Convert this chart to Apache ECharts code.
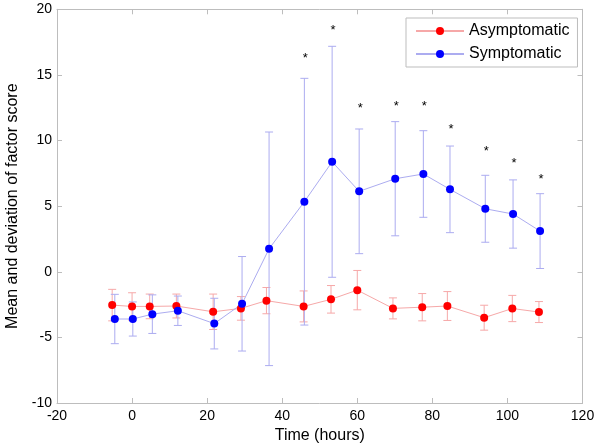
<!DOCTYPE html>
<html><head><meta charset="utf-8">
<script src="https://cdn.jsdelivr.net/npm/echarts@6/dist/echarts.min.js"></script>
<style>html,body{margin:0;padding:0;background:#fff}#c{width:600px;height:445px}</style>
</head><body><div id="c"></div>
<script>
// ---- data ----
const asymX  = [-5.3, 0, 4.7, 11.8, 21.6, 29.0, 35.8, 45.7, 53.0, 60.0, 69.5, 77.3, 84.0, 93.8, 101.3, 108.4];
const asymY  = [-2.54, -2.64, -2.64, -2.61, -3.05, -2.79, -2.2, -2.64, -2.10, -1.40, -2.79, -2.70, -2.61, -3.50, -2.80, -3.07];
const asymSD = [1.2, 1.04, 0.94, 0.91, 1.35, 0.9, 1.0, 1.18, 1.05, 1.5, 0.8, 1.04, 1.1, 0.95, 1.0, 0.8];

const symX  = [-4.6, 0.2, 5.4, 12.2, 21.9, 29.3, 36.5, 45.9, 53.3, 60.5, 70.1, 77.6, 84.7, 94.1, 101.5, 108.7];
const symY  = [-3.6, -3.6, -3.23, -2.97, -3.95, -2.44, 1.75, 5.34, 8.38, 6.13, 7.09, 7.45, 6.28, 4.80, 4.40, 3.10];
const symSD = [1.88, 1.3, 1.47, 1.12, 1.93, 3.6, 8.9, 9.4, 8.8, 4.75, 4.35, 3.3, 3.3, 2.55, 2.6, 2.85];

const starX = [45.9, 53.3, 60.5, 70.1, 77.6, 84.7, 94.1, 101.5, 108.7];
const starY = [16.5, 18.6, 12.7, 12.85, 12.8, 11.1, 9.4, 8.45, 7.3];

const xTicks = {min: -20, max: 120, step: 20};
const yTicks = {min: -10, max: 20, step: 5};
const seriesNames = ['Asymptomatic', 'Symptomatic'];

// ---- styling ----
const FONT = 'Liberation Sans, Arial, sans-serif';
const AXIS = '#bdbdbd';
const RED = '#ff0000', BLUE = '#0000ff';
const RED_L = '#f6a8a8', BLUE_L = '#acacf0';

function errSeries(xs, ys, sds, color) {
  return {
    type: 'custom', silent: true,
    data: xs.map((x, i) => [x, ys[i] - sds[i], ys[i] + sds[i]]),
    encode: {x: 0, y: [1, 2]},
    renderItem(params, api) {
      const x = api.value(0);
      const p1 = api.coord([x, api.value(1)]);
      const p2 = api.coord([x, api.value(2)]);
      const w = 4;
      const style = {stroke: color, lineWidth: 1};
      return {type: 'group', children: [
        {type: 'line', shape: {x1: p1[0], y1: p1[1], x2: p2[0], y2: p2[1]}, style},
        {type: 'line', shape: {x1: p1[0] - w, y1: p1[1], x2: p1[0] + w, y2: p1[1]}, style},
        {type: 'line', shape: {x1: p2[0] - w, y1: p2[1], x2: p2[0] + w, y2: p2[1]}, style}
      ]};
    }
  };
}
function lineSeries(name, xs, ys, color, light) {
  return {
    type: 'line', name, data: xs.map((x, i) => [x, ys[i]]),
    symbol: 'circle', symbolSize: 8, showSymbol: true,
    lineStyle: {color: light, width: 1},
    itemStyle: {color: color},
    emphasis: {disabled: true}
  };
}

const baseX = {type: 'value', min: xTicks.min, max: xTicks.max, interval: xTicks.step,
  splitLine: {show: false},
  axisLine: {show: true, onZero: false, lineStyle: {color: AXIS}},
  axisTick: {show: true, inside: true, length: 5, lineStyle: {color: AXIS}}};
const baseY = {type: 'value', min: yTicks.min, max: yTicks.max, interval: yTicks.step,
  splitLine: {show: false},
  axisLine: {show: true, onZero: false, lineStyle: {color: AXIS}},
  axisTick: {show: true, inside: true, length: 5, lineStyle: {color: AXIS}}};

const chart = echarts.init(document.getElementById('c'), null, {renderer: 'canvas'});
chart.setOption({
  animation: false,
  backgroundColor: '#fff',
  grid: {left: 57, right: 17.5, top: 9.3, bottom: 42, containLabel: false, outerBoundsMode: 'none'},
  legend: {
    data: seriesNames, orient: 'vertical', left: 406, top: 18,
    backgroundColor: '#fff', borderColor: '#bdbdbd', borderWidth: 1,
    padding: [5, 8, 5, 9], itemGap: 7, itemWidth: 48, itemHeight: 10,
    textStyle: {fontFamily: FONT, fontSize: 16, color: '#000'}
  },
  xAxis: [
    Object.assign({}, baseX, {position: 'bottom',
      axisLabel: {color: '#000', fontFamily: FONT, fontSize: 14, margin: 6},
      name: 'Time (hours)', nameLocation: 'middle', nameGap: 23,
      nameTextStyle: {color: '#000', fontFamily: FONT, fontSize: 16}}),
    Object.assign({}, baseX, {position: 'top', axisLabel: {show: false}})
  ],
  yAxis: [
    Object.assign({}, baseY, {position: 'left',
      axisLabel: {color: '#000', fontFamily: FONT, fontSize: 14, margin: 5},
      name: 'Mean and deviation of factor score', nameLocation: 'middle', nameGap: 36,
      nameTextStyle: {color: '#000', fontFamily: FONT, fontSize: 16}}),
    Object.assign({}, baseY, {position: 'right', axisLabel: {show: false}})
  ],
  series: [
    errSeries(asymX, asymY, asymSD, RED_L),
    lineSeries(seriesNames[0], asymX, asymY, RED, RED_L),
    errSeries(symX, symY, symSD, BLUE_L),
    lineSeries(seriesNames[1], symX, symY, BLUE, BLUE_L),
    {
      type: 'custom', silent: true,
      data: starX.map((x, i) => [x, starY[i]]),
      encode: {x: 0, y: 1},
      renderItem(params, api) {
        const p = api.coord([api.value(0), api.value(1)]);
        return {type: 'text', style: {text: '*', x: p[0] + 1, y: p[1] + 3,
          align: 'center', verticalAlign: 'middle', font: '13px ' + FONT, fill: '#000'}};
      }
    }
  ]
});
</script></body></html>
